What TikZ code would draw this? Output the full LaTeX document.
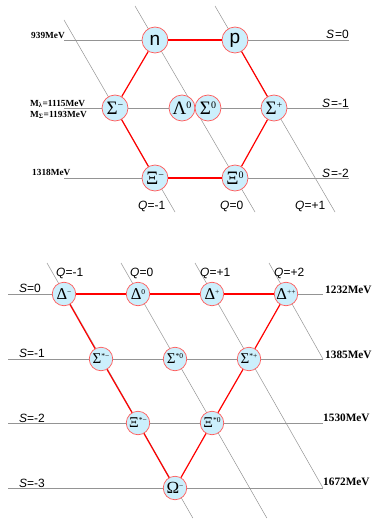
\documentclass[tikz,border=0pt]{standalone}
\usepackage{fontspec}
\setmainfont{Liberation Serif}
\setsansfont{Liberation Sans}
\newcommand{\supA}[1]{\raisebox{5.5pt}{\fontsize{10}{10}\selectfont #1}}
\newcommand{\supB}[1]{\raisebox{5pt}{\fontsize{7.5}{7.5}\selectfont #1}}
\tikzset{
 x=1pt, y=-1pt,
 gridline/.style={draw=black!42, line width=0.5pt},
 edge/.style={draw=red, line width=1.2pt},
 hadron/.style={circle, draw=red!65, fill=cyan!20, line width=0.7pt, minimum size=26pt, inner sep=0pt},
 hadronb/.style={hadron, minimum size=23.5pt},
 lab/.style={font=\sffamily\fontsize{12}{12}\selectfont, inner sep=0pt},
 mev/.style={font=\bfseries\fontsize{9.3}{10}\selectfont, inner sep=0pt},
 mevb/.style={font=\bfseries\fontsize{11.3}{12}\selectfont, inner sep=0pt},
 bigsans/.style={font=\sffamily\fontsize{19}{19}\selectfont},
 bigserif/.style={font=\fontsize{19}{19}\selectfont},
 delta/.style={font=\fontsize{16.5}{16.5}\selectfont},
 star/.style={font=\fontsize{15}{15}\selectfont},
}
\begin{document}
\begin{tikzpicture}
\useasboundingbox (0,0) rectangle (373,519);
% ---------- top octet grid ----------
\coordinate (ha0) at (64,40);  \coordinate (hb0) at (349,40);
\coordinate (ha1) at (64,108); \coordinate (hb1) at (349,108);
\coordinate (ha2) at (64,178); \coordinate (hb2) at (349,178);
\coordinate (qa1) at (64,20);  \coordinate (qb1) at (175,212);
\coordinate (qa2) at (135,6);  \coordinate (qb2) at (255,212);
\coordinate (qa3) at (215,6);  \coordinate (qb3) at (335,212);
\foreach \i in {0,1,2} {\draw[gridline] (ha\i) -- (hb\i);}
\foreach \i in {1,2,3} {\draw[gridline] (qa\i) -- (qb\i);}
% ---------- bottom decuplet grid ----------
\coordinate (la0) at (8,294); \coordinate (lb0) at (323,294);
\coordinate (la1) at (8,359); \coordinate (lb1) at (323,359);
\coordinate (la2) at (8,423); \coordinate (lb2) at (323,423);
\coordinate (la3) at (8,488); \coordinate (lb3) at (323,488);
\coordinate (ka1) at (47,263);  \coordinate (kb1) at (192.8,518);
\coordinate (ka2) at (121,263); \coordinate (kb2) at (266.8,518);
\coordinate (ka3) at (195,263); \coordinate (kb3) at (323,488);
\coordinate (ka4) at (269,263); \coordinate (kb4) at (323,359);
\foreach \i in {0,1,2,3} {\draw[gridline] (la\i) -- (lb\i);}
\foreach \i in {1,2,3,4} {\draw[gridline] (ka\i) -- (kb\i);}
% ---------- top nodes ----------
\node[hadron, bigsans] (n) at (155,40) {n};
\node[hadron, bigsans] (p) at (235,40) {p};
\node[hadron, bigserif] (sm) at (115,108) {Σ\supA{−}};
\node[hadron, bigserif] (l0) at (182,108) {Λ\supA{0}};
\node[hadron, bigserif] (s0) at (208,108) {Σ\supA{0}};
\node[hadron, bigserif] (sp) at (274,108) {Σ\supA{+}};
\node[hadron, bigserif] (xm) at (155,178) {Ξ\supA{−}};
\node[hadron, bigserif] (x0) at (235,178) {Ξ\supA{0}};
\draw[edge] (n) -- (p);
\draw[edge] (p) -- (sp);
\draw[edge] (sp) -- (x0);
\draw[edge] (x0) -- (xm);
\draw[edge] (xm) -- (sm);
\draw[edge] (sm) -- (n);
% ---------- bottom nodes ----------
\node[hadronb, delta] (dm) at (64,294) {Δ\supB{−}};
\node[hadronb, delta] (d0) at (138,294) {Δ\supB{0}};
\node[hadronb, delta] (dp) at (212,294) {Δ\supB{+}};
\node[hadronb, delta] (dpp) at (286,294) {Δ\supB{++}};
\node[hadronb, star] (ssm) at (101,359) {Σ\supB{*−}};
\node[hadronb, star] (ss0) at (175,359) {Σ\supB{*0}};
\node[hadronb, star] (ssp) at (249,359) {Σ\supB{*+}};
\node[hadronb, star] (xsm) at (138,423) {Ξ\supB{*−}};
\node[hadronb, star] (xs0) at (212,423) {Ξ\supB{*0}};
\node[hadronb, font=\fontsize{17}{17}\selectfont] (om) at (175,488) {Ω\supB{−}};
\draw[edge] (dm) -- (d0);
\draw[edge] (d0) -- (dp);
\draw[edge] (dp) -- (dpp);
\draw[edge] (dpp) -- (ssp);
\draw[edge] (ssp) -- (xs0);
\draw[edge] (xs0) -- (om);
\draw[edge] (om) -- (xsm);
\draw[edge] (xsm) -- (ssm);
\draw[edge] (ssm) -- (dm);
% ---------- top labels ----------
\node[mev, anchor=base east] (t939) at (65,38) {939MeV};
\node[mev, anchor=base west] (tml) at (30,106) {M\textsubscript{λ}=1115MeV};
\node[mev, anchor=base west] (tms) at (30,117) {M\textsubscript{Σ}=1193MeV};
\node[mev, anchor=base west] (t1318) at (32,175) {1318MeV};
\node[lab, anchor=base east] (ts0) at (349,39) {\textit{S}\kern1pt=0};
\node[lab, anchor=base east] (ts1) at (349,107) {\textit{S}\kern1pt=-1};
\node[lab, anchor=base east] (ts2) at (349,177) {\textit{S}\kern1pt=-2};
\node[lab, anchor=base west] (tq1) at (138,209) {\textit{Q}=-1};
\node[lab, anchor=base west] (tq2) at (220,209) {\textit{Q}=0};
\node[lab, anchor=base west] (tq3) at (295,209) {\textit{Q}=+1};
% ---------- bottom labels ----------
\node[lab, anchor=base west] (bq1) at (56,276) {\textit{Q}=-1};
\node[lab, anchor=base west] (bq2) at (130,276) {\textit{Q}=0};
\node[lab, anchor=base west] (bq3) at (200,276) {\textit{Q}=+1};
\node[lab, anchor=base west] (bq4) at (274,276) {\textit{Q}=+2};
\node[lab, anchor=base west] (bs0) at (19,292) {\textit{S}=0};
\node[lab, anchor=base west] (bs1) at (19,357) {\textit{S}=-1};
\node[lab, anchor=base west] (bs2) at (19,422) {\textit{S}=-2};
\node[lab, anchor=base west] (bs3) at (19,487) {\textit{S}=-3};
\node[mevb, anchor=base west] (b1232) at (325,293) {1232MeV};
\node[mevb, anchor=base west] (b1385) at (325,358) {1385MeV};
\node[mevb, anchor=base west] (b1530) at (323,421) {1530MeV};
\node[mevb, anchor=base west] (b1672) at (323,485) {1672MeV};
\end{tikzpicture}
\end{document}
